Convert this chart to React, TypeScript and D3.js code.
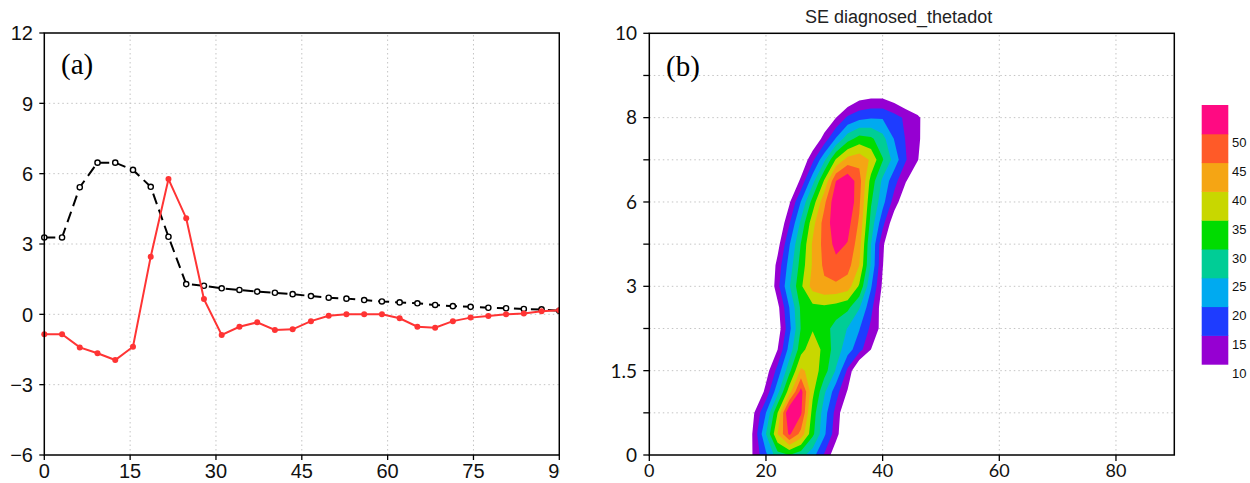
import React from 'react';
import * as d3 from 'd3';

const W = 1250;
const H = 483;

// ---------- panel (a): time series ----------
const timeSteps = [0, 3.1, 6.2, 9.3, 12.4, 15.5, 18.6, 21.7, 24.8, 27.9, 31.0, 34.1, 37.2, 40.3, 43.4,
  46.6, 49.7, 52.8, 55.9, 59.0, 62.1, 65.2, 68.3, 71.4, 74.5, 77.6, 80.7, 83.8, 86.9, 90];
const blackSeries = [3.28, 3.28, 5.42, 6.47, 6.47, 6.16, 5.44, 3.31, 1.29, 1.22, 1.11, 1.04, 0.97, 0.92, 0.86,
  0.78, 0.71, 0.67, 0.61, 0.55, 0.51, 0.47, 0.40, 0.35, 0.32, 0.28, 0.26, 0.23, 0.21, 0.15];
const redSeries = [-0.85, -0.85, -1.41, -1.66, -1.95, -1.38, 2.46, 5.77, 4.10, 0.65, -0.88, -0.53, -0.34, -0.67, -0.64,
  -0.29, -0.06, 0.0, 0.0, 0.0, -0.17, -0.53, -0.57, -0.29, -0.14, -0.07, 0.0, 0.04, 0.13, 0.17];
const aXTicks = [0, 15, 30, 45, 60, 75, 90];
const aYTicks = [-6, -3, 0, 3, 6, 9, 12];

// ---------- panel (b): filled contours ----------
const bLevels = [0, 0.75, 1.5, 2.25, 3, 4.5, 6, 7, 8, 9, 10];
const bYLabels = [0, 1.5, 3, 6, 8, 10];
const bXTicks = [0, 20, 40, 60, 80];
const gridX = [14, 16, 18, 20, 22, 24, 26, 28, 30, 32, 34, 36, 38, 40, 42, 44, 46, 48, 50];
// rows are in level-index units (0 = bottom, 10 = top)
const gridRows = [0, 0.5, 1, 1.5, 2, 2.5, 3, 3.5, 4, 4.5, 5, 5.5, 6, 6.5, 7, 7.5, 8, 8.5, 9];
const field = [
  [0, 2, 11.5, 19, 28, 30, 27, 22, 14.5, 6, 0, 0, 0, 0, 0, 0, 0, 0, 0],
  [0, 2, 11.7, 25, 40, 51, 43.3, 31.3, 20.9, 12.1, 3, 0, 0, 0, 0, 0, 0, 0, 0],
  [0, 0, 10, 20, 35, 56, 50.8, 32.9, 22.2, 13.3, 4, 0, 0, 0, 0, 0, 0, 0, 0],
  [0, 0, 3, 11.7, 23.3, 37.7, 52, 36.3, 25.9, 17.1, 9.5, 1, 0, 0, 0, 0, 0, 0, 0],
  [0, 0, 0, 7.5, 16.8, 28.5, 41, 38, 32.2, 24.5, 14, 3, 0, 0, 0, 0, 0, 0, 0],
  [0, 0, 0, 2, 10, 21.9, 33, 38.5, 33.3, 27.6, 22.2, 17, 10, 2, 0, 0, 0, 0, 0],
  [0, 0, 0, 0, 7, 18.5, 30.3, 34.5, 32, 28, 24.8, 20.3, 13.9, 8, 0, 0, 0, 0, 0],
  [0, 0, 0, 1, 8.5, 20, 31, 33.5, 34, 33, 31.2, 25.4, 16.5, 7, 0, 0, 0, 0, 0],
  [0, 0, 0, 2, 13.3, 24.5, 34.1, 42, 44, 44, 42.5, 34.3, 20.6, 9, 1, 0, 0, 0, 0],
  [0, 0, 0, 2, 11.8, 22.1, 32.1, 40.6, 46, 48.5, 47, 40, 24.4, 10.3, 2, 0, 0, 0, 0],
  [0, 0, 0, 3, 8, 19.5, 30.3, 40.7, 46.7, 51.5, 49.7, 42.1, 25, 11, 3, 0, 0, 0, 0],
  [0, 0, 0, 0, 4, 14.5, 26.2, 38.1, 47.2, 53, 52, 44.2, 28.1, 16.7, 6, 0, 0, 0, 0],
  [0, 0, 0, 0, 3, 9.2, 20.3, 32.1, 43.8, 54, 55, 45.9, 30.6, 21.7, 12.8, 5, 0, 0, 0],
  [0, 0, 0, 0, 0, 3, 11.25, 23.1, 35.6, 50, 54, 47.1, 33.1, 23.9, 16.8, 10.3, 5, 0, 0],
  [0, 0, 0, 0, 0, 0, 5, 13.75, 23.9, 35.6, 42, 43.5, 39.2, 30.4, 22.9, 15.3, 10.3, 5, 0],
  [0, 0, 0, 0, 0, 0, 0, 5, 12, 20.5, 27.9, 32, 31, 26.75, 19.7, 14.6, 11.1, 6, 0],
  [0, 0, 0, 0, 0, 0, 0, 0, 5, 10, 16, 18.5, 19.5, 19.5, 17, 14, 11.2, 6, 0],
  [0, 0, 0, 0, 0, 0, 0, 0, 0, 0, 4, 8, 9, 9, 7, 4, 2, 0, 0],
  [0, 0, 0, 0, 0, 0, 0, 0, 0, 0, 0, 0, 0, 0, 0, 0, 0, 0, 0],
];
const thresholds = [10, 15, 20, 25, 30, 35, 40, 45, 50];
const shadeColors = ['#9600d2', '#1e3cff', '#00aaf0', '#00cd96', '#00dc00', '#c8d700', '#f5a514', '#ff5a28', '#ff0a82'];

const gridStroke = '#c4c4c4';
const gridDash = '1.5,3';

function LinePanel() {
  const x = d3.scaleLinear().domain([0, 90]).range([44.3, 559.3]);
  const y = d3.scaleLinear().domain([-6, 12]).range([455, 33]);
  const [x0, x1] = x.range();
  const [y0, y1] = y.range();
  const pts = (vals: number[]) => timeSteps.map((t, i) => [t, vals[i]] as [number, number]);
  const line = d3.line<[number, number]>().x(d => x(d[0])).y(d => y(d[1]));
  const fmt = (v: number) => d3.format('d')(v);

  return (
    <g>
      <defs>
        <clipPath id="clipA"><rect x={0} y={0} width={560} height={H} /></clipPath>
      </defs>
      <g clipPath="url(#clipA)">
        {aXTicks.slice(1, -1).map(t => (
          <line key={'gx' + t} x1={x(t)} x2={x(t)} y1={y0} y2={y1} stroke={gridStroke} strokeDasharray={gridDash} />
        ))}
        {aYTicks.slice(1, -1).map(t => (
          <line key={'gy' + t} x1={x0} x2={x1} y1={y(t)} y2={y(t)} stroke={gridStroke} strokeDasharray={gridDash} />
        ))}
        <path d={line(pts(blackSeries)) || ''} fill="none" stroke="#000" strokeWidth={2} strokeDasharray="11,6" />
        {pts(blackSeries).map((d, i) => (
          <circle key={'b' + i} cx={x(d[0])} cy={y(d[1])} r={2.6} fill="#fff" stroke="#000" strokeWidth={1.4} />
        ))}
        <path d={line(pts(redSeries)) || ''} fill="none" stroke="#ff3434" strokeWidth={2} />
        {pts(redSeries).map((d, i) => (
          <circle key={'r' + i} cx={x(d[0])} cy={y(d[1])} r={3} fill="#ff3434" />
        ))}
        <rect x={x0} y={y1} width={x1 - x0} height={y0 - y1} fill="none" stroke="#000" strokeWidth={1.5} />
        {aXTicks.map(t => (
          <g key={'xt' + t}>
            <line x1={x(t)} x2={x(t)} y1={y0} y2={y0 + 5} stroke="#000" strokeWidth={1.3} />
            <text x={x(t)} y={478} textAnchor="middle" fontSize={20} fontFamily="Liberation Sans, Arial, sans-serif" fill="#111">{fmt(t)}</text>
          </g>
        ))}
        {aYTicks.map(t => (
          <g key={'yt' + t}>
            <line x1={x0 - 5} x2={x0} y1={y(t)} y2={y(t)} stroke="#000" strokeWidth={1.3} />
            <text x={33} y={y(t)} dy="0.36em" textAnchor="end" fontSize={20} fontFamily="Liberation Sans, Arial, sans-serif" fill="#111">{fmt(t)}</text>
          </g>
        ))}
        <text x={61} y={74} fontSize={29} fontFamily="Liberation Serif, Times New Roman, serif" fill="#000">(a)</text>
      </g>
    </g>
  );
}

function ContourPanel() {
  const x = d3.scaleLinear().domain([0, 90]).range([649.3, 1174.3]);
  const lvl = d3.scaleLinear().domain([0, 10]).range([455, 33.3]);
  const y = d3.scaleLinear().domain(bLevels).range(bLevels.map((_, i) => lvl(i)));
  const [x0, x1] = x.range();
  const yb = lvl(0), yt = lvl(10);

  const n = gridX.length, m = gridRows.length;
  const gx = d3.scaleLinear().domain([0.5, n - 0.5]).range([gridX[0], gridX[n - 1]]);
  const gy = d3.scaleLinear().domain([0.5, m - 0.5]).range([gridRows[0], gridRows[m - 1]]);
  const contours = d3.contours().size([n, m]).thresholds(thresholds)(field.flat());
  const proj = d3.geoTransform({
    point: function (px: number, py: number) {
      (this as any).stream.point(x(gx(px)), lvl(gy(py)));
    },
  });
  const path = d3.geoPath(proj);
  const color = d3.scaleOrdinal<number, string>().domain(thresholds).range(shadeColors);

  // colorbar
  const barTop = 105, barBin = 28.8;
  const bar = d3.scaleBand<number>().domain([...thresholds].reverse()).range([barTop, barTop + barBin * thresholds.length]);
  const font = 'Lato, Open Sans, sans-serif';

  return (
    <g>
      <defs>
        <clipPath id="clipB"><rect x={x0} y={yt} width={x1 - x0} height={yb - yt} /></clipPath>
      </defs>
      {bXTicks.slice(1).map(t => (
        <line key={'gx' + t} x1={x(t)} x2={x(t)} y1={yb} y2={yt} stroke={gridStroke} strokeDasharray={gridDash} />
      ))}
      {bLevels.slice(1, -1).map(v => (
        <line key={'gy' + v} x1={x0} x2={x1} y1={y(v)} y2={y(v)} stroke={gridStroke} strokeDasharray={gridDash} />
      ))}
      <g clipPath="url(#clipB)">
        {contours.map(c => (
          <path key={'c' + c.value} d={path(c as any) || ''} fill={color(c.value)} stroke="none" />
        ))}
      </g>
      <rect x={x0} y={yt} width={x1 - x0} height={yb - yt} fill="none" stroke="#000" strokeWidth={1.5} />
      {bXTicks.map(t => (
        <g key={'xt' + t}>
          <line x1={x(t)} x2={x(t)} y1={yb} y2={yb + 6} stroke="#000" strokeWidth={1.3} />
          <text x={x(t)} y={477} textAnchor="middle" fontSize={18} fontFamily={font} fill="#111">{t}</text>
        </g>
      ))}
      {bLevels.map(v => (
        <line key={'yt' + v} x1={x0 - 6} x2={x0} y1={y(v)} y2={y(v)} stroke="#000" strokeWidth={1.3} />
      ))}
      {bYLabels.map(v => (
        <text key={'yl' + v} x={637} y={y(v)} dy="0.36em" textAnchor="end" fontSize={19} fontFamily={font} fill="#111">{v}</text>
      ))}
      <text x={805} y={23} fontSize={18} fontFamily="Liberation Sans, Arial, sans-serif" fill="#222">SE diagnosed_thetadot</text>
      <text x={666} y={76} fontSize={29} fontFamily="Liberation Serif, Times New Roman, serif" fill="#000">(b)</text>
      {thresholds.map(t => (
        <g key={'cb' + t}>
          <rect x={1201.7} y={bar(t)} width={26.6} height={bar.bandwidth() + 0.5} fill={color(t)} />
          <text x={1232} y={(bar(t) || 0) + bar.bandwidth() + 9} dy="0.36em" fontSize={13} fontFamily="Liberation Sans, Arial, sans-serif" fill="#111">{t}</text>
        </g>
      ))}
    </g>
  );
}

export default function App() {
  return (
    <svg width={W} height={H} style={{ position: 'absolute', left: 0, top: 0, background: '#fff' }}>
      <rect x={0} y={0} width={W} height={H} fill="#fff" />
      <LinePanel />
      <ContourPanel />
    </svg>
  );
}
